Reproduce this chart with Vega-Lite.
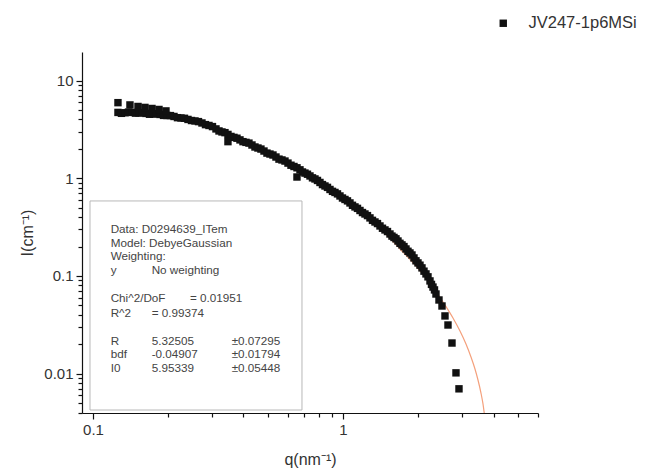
{
  "$schema": "https://vega.github.io/schema/vega-lite/v6.json",
  "width": 456,
  "height": 361,
  "autosize": "none",
  "padding": {"left": 82, "top": 52, "right": 110, "bottom": 58},
  "background": "white",
  "config": {
    "view": {"stroke": null},
    "font": "Liberation Sans",
    "legend": {"orient": "none", "legendX": 413, "legendY": -37, "padding": 0, "labelFontSize": 16.5, "labelColor": "#333", "symbolType": "square", "symbolSize": 55, "labelOffset": 17, "symbolStrokeWidth": 0}
  },
  "datasets": {
    "pts": [
      {"q": 0.1259, "I": 4.72, "series": "JV247-1p6MSi"},
      {"q": 0.130, "I": 4.62, "series": "JV247-1p6MSi"},
      {"q": 0.1343, "I": 4.68, "series": "JV247-1p6MSi"},
      {"q": 0.1387, "I": 4.76, "series": "JV247-1p6MSi"},
      {"q": 0.1432, "I": 4.72, "series": "JV247-1p6MSi"},
      {"q": 0.1479, "I": 4.64, "series": "JV247-1p6MSi"},
      {"q": 0.1528, "I": 4.66, "series": "JV247-1p6MSi"},
      {"q": 0.1577, "I": 4.68, "series": "JV247-1p6MSi"},
      {"q": 0.1629, "I": 4.61, "series": "JV247-1p6MSi"},
      {"q": 0.1683, "I": 4.52, "series": "JV247-1p6MSi"},
      {"q": 0.1738, "I": 4.55, "series": "JV247-1p6MSi"},
      {"q": 0.1795, "I": 4.57, "series": "JV247-1p6MSi"},
      {"q": 0.1854, "I": 4.50, "series": "JV247-1p6MSi"},
      {"q": 0.1915, "I": 4.40, "series": "JV247-1p6MSi"},
      {"q": 0.1977, "I": 4.39, "series": "JV247-1p6MSi"},
      {"q": 0.2042, "I": 4.38, "series": "JV247-1p6MSi"},
      {"q": 0.2109, "I": 4.29, "series": "JV247-1p6MSi"},
      {"q": 0.2178, "I": 4.17, "series": "JV247-1p6MSi"},
      {"q": 0.2249, "I": 4.14, "series": "JV247-1p6MSi"},
      {"q": 0.2323, "I": 4.11, "series": "JV247-1p6MSi"},
      {"q": 0.2399, "I": 4.00, "series": "JV247-1p6MSi"},
      {"q": 0.2478, "I": 3.90, "series": "JV247-1p6MSi"},
      {"q": 0.2559, "I": 3.86, "series": "JV247-1p6MSi"},
      {"q": 0.2643, "I": 3.80, "series": "JV247-1p6MSi"},
      {"q": 0.2729, "I": 3.68, "series": "JV247-1p6MSi"},
      {"q": 0.2819, "I": 3.54, "series": "JV247-1p6MSi"},
      {"q": 0.2911, "I": 3.47, "series": "JV247-1p6MSi"},
      {"q": 0.3006, "I": 3.38, "series": "JV247-1p6MSi"},
      {"q": 0.3105, "I": 3.20, "series": "JV247-1p6MSi"},
      {"q": 0.3192, "I": 3.05, "series": "JV247-1p6MSi"},
      {"q": 0.3281, "I": 2.98, "series": "JV247-1p6MSi"},
      {"q": 0.3373, "I": 2.93, "series": "JV247-1p6MSi"},
      {"q": 0.3467, "I": 2.81, "series": "JV247-1p6MSi"},
      {"q": 0.3564, "I": 2.68, "series": "JV247-1p6MSi"},
      {"q": 0.3664, "I": 2.62, "series": "JV247-1p6MSi"},
      {"q": 0.3767, "I": 2.57, "series": "JV247-1p6MSi"},
      {"q": 0.3873, "I": 2.47, "series": "JV247-1p6MSi"},
      {"q": 0.3981, "I": 2.37, "series": "JV247-1p6MSi"},
      {"q": 0.4093, "I": 2.33, "series": "JV247-1p6MSi"},
      {"q": 0.4207, "I": 2.29, "series": "JV247-1p6MSi"},
      {"q": 0.4325, "I": 2.19, "series": "JV247-1p6MSi"},
      {"q": 0.4446, "I": 2.09, "series": "JV247-1p6MSi"},
      {"q": 0.4571, "I": 2.04, "series": "JV247-1p6MSi"},
      {"q": 0.4698, "I": 1.99, "series": "JV247-1p6MSi"},
      {"q": 0.4831, "I": 1.90, "series": "JV247-1p6MSi"},
      {"q": 0.4966, "I": 1.81, "series": "JV247-1p6MSi"},
      {"q": 0.5105, "I": 1.77, "series": "JV247-1p6MSi"},
      {"q": 0.5248, "I": 1.73, "series": "JV247-1p6MSi"},
      {"q": 0.5395, "I": 1.65, "series": "JV247-1p6MSi"},
      {"q": 0.5547, "I": 1.57, "series": "JV247-1p6MSi"},
      {"q": 0.5702, "I": 1.54, "series": "JV247-1p6MSi"},
      {"q": 0.5862, "I": 1.50, "series": "JV247-1p6MSi"},
      {"q": 0.6026, "I": 1.43, "series": "JV247-1p6MSi"},
      {"q": 0.6195, "I": 1.36, "series": "JV247-1p6MSi"},
      {"q": 0.6368, "I": 1.32, "series": "JV247-1p6MSi"},
      {"q": 0.6547, "I": 1.28, "series": "JV247-1p6MSi"},
      {"q": 0.673, "I": 1.22, "series": "JV247-1p6MSi"},
      {"q": 0.6887, "I": 1.16, "series": "JV247-1p6MSi"},
      {"q": 0.7047, "I": 1.13, "series": "JV247-1p6MSi"},
      {"q": 0.7211, "I": 1.10, "series": "JV247-1p6MSi"},
      {"q": 0.7379, "I": 1.056, "series": "JV247-1p6MSi"},
      {"q": 0.7551, "I": 1.01, "series": "JV247-1p6MSi"},
      {"q": 0.7727, "I": 0.984, "series": "JV247-1p6MSi"},
      {"q": 0.7907, "I": 0.95, "series": "JV247-1p6MSi"},
      {"q": 0.8091, "I": 0.906, "series": "JV247-1p6MSi"},
      {"q": 0.8279, "I": 0.862, "series": "JV247-1p6MSi"},
      {"q": 0.8472, "I": 0.834, "series": "JV247-1p6MSi"},
      {"q": 0.867, "I": 0.807, "series": "JV247-1p6MSi"},
      {"q": 0.8872, "I": 0.768, "series": "JV247-1p6MSi"},
      {"q": 0.9079, "I": 0.735, "series": "JV247-1p6MSi"},
      {"q": 0.929, "I": 0.716, "series": "JV247-1p6MSi"},
      {"q": 0.9506, "I": 0.692, "series": "JV247-1p6MSi"},
      {"q": 0.9727, "I": 0.659, "series": "JV247-1p6MSi"},
      {"q": 0.9954, "I": 0.628, "series": "JV247-1p6MSi"},
      {"q": 1.0186, "I": 0.607, "series": "JV247-1p6MSi"},
      {"q": 1.0423, "I": 0.587, "series": "JV247-1p6MSi"},
      {"q": 1.0666, "I": 0.559, "series": "JV247-1p6MSi"},
      {"q": 1.0915, "I": 0.529, "series": "JV247-1p6MSi"},
      {"q": 1.1169, "I": 0.509, "series": "JV247-1p6MSi"},
      {"q": 1.1429, "I": 0.492, "series": "JV247-1p6MSi"},
      {"q": 1.1695, "I": 0.468, "series": "JV247-1p6MSi"},
      {"q": 1.1967, "I": 0.446, "series": "JV247-1p6MSi"},
      {"q": 1.2246, "I": 0.431, "series": "JV247-1p6MSi"},
      {"q": 1.2531, "I": 0.415, "series": "JV247-1p6MSi"},
      {"q": 1.2823, "I": 0.393, "series": "JV247-1p6MSi"},
      {"q": 1.3122, "I": 0.371, "series": "JV247-1p6MSi"},
      {"q": 1.3428, "I": 0.357, "series": "JV247-1p6MSi"},
      {"q": 1.3741, "I": 0.344, "series": "JV247-1p6MSi"},
      {"q": 1.4061, "I": 0.325, "series": "JV247-1p6MSi"},
      {"q": 1.4388, "I": 0.308, "series": "JV247-1p6MSi"},
      {"q": 1.4723, "I": 0.296, "series": "JV247-1p6MSi"},
      {"q": 1.5066, "I": 0.285, "series": "JV247-1p6MSi"},
      {"q": 1.5417, "I": 0.269, "series": "JV247-1p6MSi"},
      {"q": 1.5703, "I": 0.256, "series": "JV247-1p6MSi"},
      {"q": 1.5996, "I": 0.248, "series": "JV247-1p6MSi"},
      {"q": 1.6293, "I": 0.240, "series": "JV247-1p6MSi"},
      {"q": 1.6596, "I": 0.228, "series": "JV247-1p6MSi"},
      {"q": 1.6905, "I": 0.216, "series": "JV247-1p6MSi"},
      {"q": 1.7219, "I": 0.208, "series": "JV247-1p6MSi"},
      {"q": 1.7539, "I": 0.200, "series": "JV247-1p6MSi"},
      {"q": 1.7865, "I": 0.189, "series": "JV247-1p6MSi"},
      {"q": 1.8197, "I": 0.179, "series": "JV247-1p6MSi"},
      {"q": 1.8535, "I": 0.172, "series": "JV247-1p6MSi"},
      {"q": 1.8880, "I": 0.164, "series": "JV247-1p6MSi"},
      {"q": 1.9231, "I": 0.153, "series": "JV247-1p6MSi"},
      {"q": 1.9589, "I": 0.143, "series": "JV247-1p6MSi"},
      {"q": 1.9953, "I": 0.136, "series": "JV247-1p6MSi"},
      {"q": 2.0324, "I": 0.129, "series": "JV247-1p6MSi"},
      {"q": 2.0701, "I": 0.121, "series": "JV247-1p6MSi"},
      {"q": 2.1086, "I": 0.112, "series": "JV247-1p6MSi"},
      {"q": 2.1478, "I": 0.105, "series": "JV247-1p6MSi"},
      {"q": 2.1878, "I": 0.098, "series": "JV247-1p6MSi"},
      {"q": 2.2284, "I": 0.089, "series": "JV247-1p6MSi"},
      {"q": 2.2594, "I": 0.082, "series": "JV247-1p6MSi"},
      {"q": 2.2909, "I": 0.077, "series": "JV247-1p6MSi"},
      {"q": 2.3227, "I": 0.072, "series": "JV247-1p6MSi"},
      {"q": 2.355, "I": 0.0654, "series": "JV247-1p6MSi"},
      {"q": 2.421, "I": 0.0568, "series": "JV247-1p6MSi"},
      {"q": 2.4889, "I": 0.0493, "series": "JV247-1p6MSi"},
      {"q": 2.5586, "I": 0.039, "series": "JV247-1p6MSi"},
      {"q": 2.6303, "I": 0.0315, "series": "JV247-1p6MSi"},
      {"q": 2.729, "I": 0.0206, "series": "JV247-1p6MSi"},
      {"q": 2.8314, "I": 0.0102, "series": "JV247-1p6MSi"},
      {"q": 2.9107, "I": 0.0070, "series": "JV247-1p6MSi"},
      {"q": 0.1259, "I": 5.94, "series": "JV247-1p6MSi"},
      {"q": 0.1406, "I": 5.63, "series": "JV247-1p6MSi"},
      {"q": 0.1514, "I": 5.43, "series": "JV247-1p6MSi"},
      {"q": 0.1614, "I": 5.31, "series": "JV247-1p6MSi"},
      {"q": 0.1722, "I": 5.18, "series": "JV247-1p6MSi"},
      {"q": 0.1837, "I": 5.06, "series": "JV247-1p6MSi"},
      {"q": 0.1959, "I": 4.89, "series": "JV247-1p6MSi"},
      {"q": 0.3467, "I": 2.37, "series": "JV247-1p6MSi"},
      {"q": 0.6546, "I": 1.03, "series": "JV247-1p6MSi"}
    ],
    "fit": [
      {"q": 0.1259, "I": 4.83}, {"q": 0.1542, "I": 4.72}, {"q": 0.1854, "I": 4.55},
      {"q": 0.2228, "I": 4.24}, {"q": 0.2679, "I": 3.77}, {"q": 0.3221, "I": 3.12},
      {"q": 0.3873, "I": 2.53}, {"q": 0.4656, "I": 2.01}, {"q": 0.5598, "I": 1.56},
      {"q": 0.673, "I": 1.22}, {"q": 0.8091, "I": 0.917}, {"q": 1.0, "I": 0.629},
      {"q": 1.1695, "I": 0.456}, {"q": 1.4061, "I": 0.3056}, {"q": 1.6904, "I": 0.189},
      {"q": 1.9409, "I": 0.1296}, {"q": 2.1281, "I": 0.0977}, {"q": 2.3335, "I": 0.0719},
      {"q": 2.5586, "I": 0.0505}, {"q": 2.7542, "I": 0.0372}, {"q": 2.9376, "I": 0.02736},
      {"q": 3.1046, "I": 0.02014}, {"q": 3.2509, "I": 0.01483}, {"q": 3.3729, "I": 0.01117},
      {"q": 3.4674, "I": 0.00862}, {"q": 3.5645, "I": 0.00634}, {"q": 3.6308, "I": 0.0049},
      {"q": 3.6813, "I": 0.00378}
    ],
    "box": [{"q": 0.0973, "I": 0.5857, "q2": 0.6855, "I2": 0.00425}],
    "txt": [
      {"q": 0.1177, "I": 0.3006, "label": "Data: D0294639_ITem"},
      {"q": 0.1177, "I": 0.2192, "label": "Model: DebyeGaussian"},
      {"q": 0.1177, "I": 0.1602, "label": "Weighting:"},
      {"q": 0.1177, "I": 0.1138, "label": "y"},
      {"q": 0.1717, "I": 0.1138, "label": "No weighting"},
      {"q": 0.1177, "I": 0.0591, "label": "Chi^2/DoF"},
      {"q": 0.2443, "I": 0.0591, "label": "= 0.01951"},
      {"q": 0.1177, "I": 0.0421, "label": "R^2"},
      {"q": 0.1717, "I": 0.0421, "label": "=  0.99374"},
      {"q": 0.1177, "I": 0.02177, "label": "R"},
      {"q": 0.1717, "I": 0.02177, "label": "5.32505"},
      {"q": 0.3587, "I": 0.02177, "label": "±0.07295"},
      {"q": 0.1177, "I": 0.0159, "label": "bdf"},
      {"q": 0.1717, "I": 0.0159, "label": "-0.04907"},
      {"q": 0.3587, "I": 0.0159, "label": "±0.01794"},
      {"q": 0.1177, "I": 0.01151, "label": "I0"},
      {"q": 0.1717, "I": 0.01151, "label": "5.95339"},
      {"q": 0.3587, "I": 0.01151, "label": "±0.05448"}
    ]
  },
  "encoding": {
    "x": {
      "field": "q", "type": "quantitative",
      "scale": {"type": "log", "domain": [0.0904, 6.026], "nice": false},
      "axis": {
        "title": "q(nm⁻¹)",
        "values": [0.1, 0.2, 0.3, 0.4, 0.5, 0.6, 0.7, 0.8, 0.9, 1, 2, 3, 4, 5, 6],
        "labelExpr": "datum.value == 0.1 ? '0.1' : (datum.value == 1 ? '1' : '')",
        "tickSize": {"condition": {"test": "datum.value == 0.1 || datum.value == 1", "value": 6}, "value": 4},
        "grid": false, "domainColor": "#111", "tickColor": "#111", "domainWidth": 1.2, "tickWidth": 1.2,
        "labelFontSize": 15, "labelColor": "#333", "labelPadding": 3, "labelOverlap": false, "labelFlush": false,
        "titleFontSize": 16, "titleFontWeight": "normal", "titleColor": "#333", "titlePadding": 14
      }
    },
    "y": {
      "field": "I", "type": "quantitative",
      "scale": {"type": "log", "domain": [0.00396, 19.6], "nice": false},
      "axis": {
        "title": "I(cm⁻¹)",
        "values": [0.004, 0.005, 0.006, 0.007, 0.008, 0.009, 0.01, 0.02, 0.03, 0.04, 0.05, 0.06, 0.07, 0.08, 0.09, 0.1, 0.2, 0.3, 0.4, 0.5, 0.6, 0.7, 0.8, 0.9, 1, 2, 3, 4, 5, 6, 7, 8, 9, 10],
        "labelExpr": "datum.value == 10 ? '10' : (datum.value == 1 ? '1' : (datum.value == 0.1 ? '0.1' : (datum.value == 0.01 ? '0.01' : '')))",
        "tickSize": {"condition": {"test": "datum.value == 10 || datum.value == 1 || datum.value == 0.1 || datum.value == 0.01", "value": 6}, "value": 4},
        "grid": false, "domainColor": "#111", "tickColor": "#111", "domainWidth": 1.2, "tickWidth": 1.2,
        "labelFontSize": 15, "labelColor": "#333", "labelPadding": 3, "labelOverlap": false, "labelFlush": false,
        "titleFontSize": 16, "titleFontWeight": "normal", "titleColor": "#333", "titlePadding": 8
      }
    }
  },
  "layer": [
    {
      "data": {"name": "box"},
      "mark": {"type": "rect", "fill": "white", "stroke": "#b8b8b8", "strokeWidth": 1},
      "encoding": {"x2": {"field": "q2"}, "y2": {"field": "I2"}}
    },
    {
      "data": {"name": "fit"},
      "mark": {"type": "line", "color": "#f4a07c", "strokeWidth": 1.2, "clip": true, "interpolate": "monotone"},
      "encoding": {}
    },
    {
      "data": {"name": "pts"},
      "mark": {"type": "point", "shape": "square", "filled": true, "size": 55, "opacity": 1},
      "encoding": {
        "color": {"field": "series", "type": "nominal", "scale": {"range": ["#111111"]}, "legend": {"title": null}}
      }
    },
    {
      "data": {"name": "txt"},
      "mark": {"type": "text", "align": "left", "baseline": "middle", "fontSize": 11.7, "color": "#444"},
      "encoding": {"text": {"field": "label", "type": "nominal"}}
    }
  ]
}
